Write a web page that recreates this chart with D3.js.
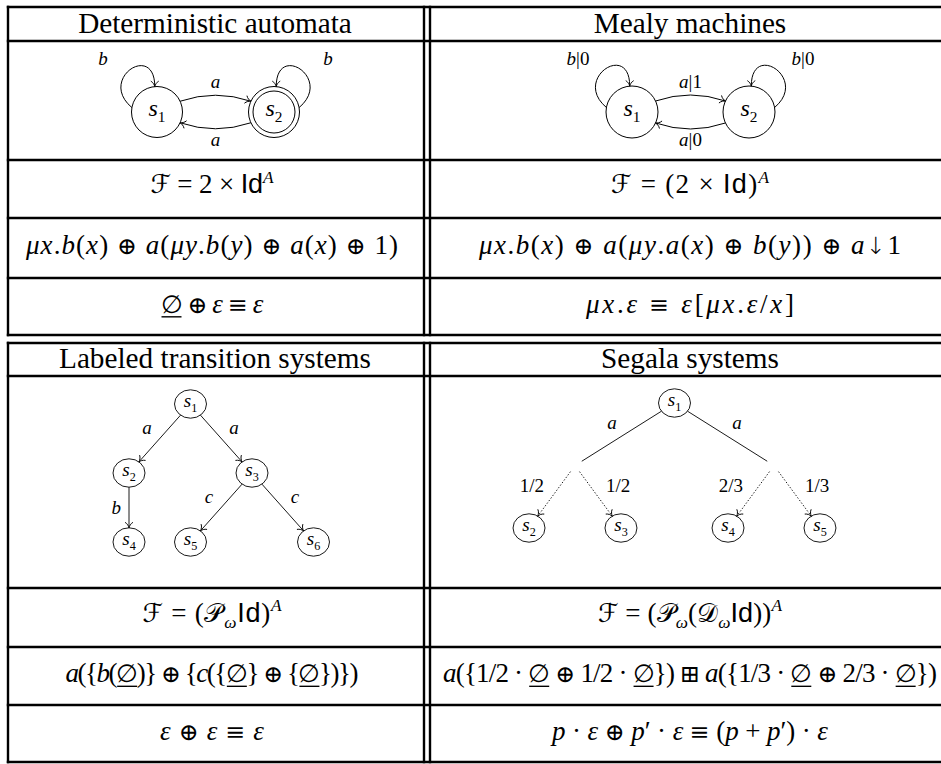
<!DOCTYPE html>
<html><head><meta charset="utf-8">
<script src="https://cdn.jsdelivr.net/npm/d3@7"></script>
<style>body{margin:0;background:#fff}svg{display:block}</style>
</head><body>
<svg id="chart" width="941" height="764"></svg>
<script>
// ---------------- DATA ----------------
const panelTitles = ["Deterministic automata", "Mealy machines", "Labeled transition systems", "Segala systems"];
const functorFormulas = ["ℱ = 2 × Id^A", "ℱ = (2 × Id)^A", "ℱ = (𝒫_ωId)^A", "ℱ = (𝒫_ω(𝒟_ωId))^A"];
const termFormulas = [
  "μx.b(x) ⊕ a(μy.b(y) ⊕ a(x) ⊕ 1)",
  "μx.b(x) ⊕ a(μy.a(x) ⊕ b(y)) ⊕ a↓1",
  "a({b(∅)} ⊕ {c({∅} ⊕ {∅})})",
  "a({1/2 · ∅ ⊕ 1/2 · ∅}) ⊞ a({1/3 · ∅ ⊕ 2/3 · ∅})"
];
const axiomFormulas = ["∅ ⊕ ε ≡ ε", "μx.ε ≡ ε[μx.ε/x]", "ε ⊕ ε ≡ ε", "p · ε ⊕ p′ · ε ≡ (p + p′) · ε"];

// two-state automata: labels = [s1→s2, s2→s1, loop on s1, loop on s2]
const automatonStates = ["s_1", "s_2"];
const dfaAccepting = [false, true];
const dfaLabels = ["a", "a", "b", "b"];
const mealyAccepting = [false, false];
const mealyLabels = ["a|1", "a|0", "b|0", "b|0"];

// trees (parent index, edge label)
const ltsStates = ["s_1", "s_2", "s_3", "s_4", "s_5", "s_6"];
const ltsParent = [-1, 0, 0, 1, 2, 2];
const ltsActions = ["", "a", "a", "b", "c", "c"];
const segalaStates = ["s_1", "", "", "s_2", "s_3", "s_4", "s_5"];
const segalaParent = [-1, 0, 0, 1, 1, 2, 2];
const segalaLabels = ["", "a", "a", "1/2", "1/2", "2/3", "1/3"];

// ---------------- LAYOUT ----------------
const SERIF = "'Liberation Serif','DejaVu Serif',serif";
const SANS = "'Liberation Sans','DejaVu Sans',sans-serif";
const CAL = "'DejaVu Sans','DejaVu Serif','Noto Sans',serif";
const SYM = "'DejaVu Sans','DejaVu Serif',sans-serif";
const gridX = [8, 424, 430];
const rightEdge = 941;
const blocks = [[7, 41, 160, 218, 278, 335], [343, 376, 588, 647, 705, 762]];
const titleCenter = [215, 690];
const mathCenter = [212, 690];
const MATH_FS = 27;
const functorWidths = [123, 158, 139, 184];
const termWidths = [372, 422, 293, 494];
const axiomWidths = [103, 208, 104, 276];

const svg = d3.select("#chart");
const defs = svg.append("defs");
defs.append("marker").attr("id", "tip").attr("markerUnits", "userSpaceOnUse")
  .attr("viewBox", "-8 -8 16 16").attr("markerWidth", 16).attr("markerHeight", 16)
  .attr("refX", 0).attr("refY", 0).attr("orient", "auto")
  .append("path").attr("d", "M-5.5,-4 C-4.2,-1.6 -1.6,-0.4 0,0 C-1.6,0.4 -4.2,1.6 -5.5,4")
  .attr("fill", "none").attr("stroke", "#000").attr("stroke-width", 0.9);

function tokenize(str) {
  const ch = Array.from(str), runs = [];
  let i = 0;
  while (i < ch.length) {
    const c = ch[i];
    if (c === "^" || c === "_") {
      const n = ch[i + 1];
      runs.push({ t: n, cls: c === "^" ? "sup" : "sub", it: /[A-Za-zμεω]/.test(n) });
      i += 2; continue;
    }
    if (c === "I" && ch[i + 1] === "d") { runs.push({ t: "Id", cls: "sans" }); i += 2; continue; }
    let cls;
    if ("ℱ𝒫𝒟".includes(c)) cls = "cal";
    else if (c === "∅") cls = "empty";
    else if ("⊕⊞≡↓".includes(c)) cls = "sym";
    else if (/[A-Za-zμεω]/.test(c)) cls = "it";
    else cls = "rm";
    const last = runs[runs.length - 1];
    if (last && last.cls === cls && (cls === "it" || cls === "rm")) last.t += c;
    else runs.push({ t: c, cls });
    i++;
  }
  return runs;
}

function mathText(parent, str, x, y, fs, anchor, width) {
  const g = parent.append("g");
  const t = g.append("text").attr("x", x).attr("y", y)
    .attr("text-anchor", anchor || "middle")
    .attr("font-family", SERIF).style("font-size", fs + "px")
    .style("white-space", "pre").attr("fill", "#000");
  if (width) t.attr("textLength", width).attr("lengthAdjust", "spacing");
  let shift = 0;
  const empties = [];
  tokenize(str).forEach(r => {
    const ts = t.append("tspan").text(r.t);
    let target = 0;
    if (r.cls === "sup") target = -0.38 * fs;
    if (r.cls === "sub") target = 0.25 * fs;
    if (target !== shift) { ts.attr("dy", target - shift); shift = target; }
    if (r.cls === "it") ts.style("font-style", "italic");
    if (r.cls === "sans") ts.attr("font-family", SANS);
    if (r.cls === "cal") ts.attr("font-family", CAL).style("font-size", "96%");
    if (r.cls === "sym") ts.attr("font-family", SYM).style("font-weight", 200).style("font-size", "88%");
    if (r.cls === "empty") { ts.attr("font-family", SYM).style("font-weight", 200).style("font-size", "94%"); empties.push(ts.node()); }
    if (r.cls === "sup" || r.cls === "sub") {
      ts.style("font-size", "64%");
      if (r.it) ts.style("font-style", "italic");
    }
  });
  empties.forEach(node => {
    const p = node.getStartPositionOfChar(0), e = node.getEndPositionOfChar(0);
    g.append("line").attr("x1", p.x + 1).attr("x2", e.x - 1)
      .attr("y1", y + 0.16 * fs).attr("y2", y + 0.16 * fs)
      .attr("stroke", "#000").attr("stroke-width", 1.4);
  });
  return g;
}

function fitSize(str, targetW) {
  const probe = svg.append("text").attr("font-family", SERIF).style("font-size", "20px").text(str);
  const w = probe.node().getBBox().width;
  probe.remove();
  return 20 * targetW / w;
}

// ---------------- TABLE GRID ----------------
const grid = svg.append("g").attr("stroke", "#000").attr("stroke-width", 2.4).attr("stroke-linecap", "square");
blocks.forEach(rows => {
  rows.forEach(y => grid.append("line").attr("x1", gridX[0]).attr("x2", rightEdge + 2).attr("y1", y).attr("y2", y));
  gridX.forEach(x => grid.append("line").attr("x1", x).attr("x2", x).attr("y1", rows[0]).attr("y2", rows[rows.length - 1]));
});

// ---------------- TEXT CELLS ----------------
const titleFs = fitSize(panelTitles[0], 274);

panelTitles.forEach((title, i) => {
  const rows = blocks[Math.floor(i / 2)];
  const tx = titleCenter[i % 2], mx = mathCenter[i % 2];
  svg.append("text").attr("x", tx).attr("y", rows[1] - 8).attr("text-anchor", "middle")
    .attr("font-family", SERIF).style("font-size", titleFs + "px").text(title);
  mathText(svg, functorFormulas[i], mx, (rows[2] + rows[3]) / 2 + 4, MATH_FS, "middle", functorWidths[i]);
  mathText(svg, termFormulas[i], mx, (rows[3] + rows[4]) / 2 + 6, MATH_FS, "middle", termWidths[i]);
  mathText(svg, axiomFormulas[i], mx, (rows[4] + rows[5]) / 2 + 6, MATH_FS, "middle", axiomWidths[i]);
});

// ---------------- AUTOMATA ----------------
function drawAutomaton(xs, cy, r, accepting, labels) {
  const g = svg.append("g");
  const P = automatonStates.map((s, i) => ({ x: xs(i), y: cy, name: s, acc: accepting[i] }));
  P.forEach(p => {
    g.append("circle").attr("cx", p.x).attr("cy", p.y).attr("r", r).attr("fill", "none").attr("stroke", "#000").attr("stroke-width", 1);
    if (p.acc) g.append("circle").attr("cx", p.x).attr("cy", p.y).attr("r", r - 4.5).attr("fill", "none").attr("stroke", "#000").attr("stroke-width", 1);
    mathText(g, p.name, p.x, p.y + 3.5, 24);
  });
  [[0, 1, labels[0]], [1, 0, labels[1]]].forEach(([a, b, lab]) => {
    const A = P[a], B = P[b];
    const dx = B.x - A.x, dy = B.y - A.y, L = Math.hypot(dx, dy);
    const ux = dx / L, uy = dy / L, nx = uy, ny = -ux;
    const be = 25 * Math.PI / 180, cb = Math.cos(be), sb = Math.sin(be);
    const S = { x: A.x + r * (cb * ux + sb * nx), y: A.y + r * (cb * uy + sb * ny) };
    const E = { x: B.x + r * (-cb * ux + sb * nx), y: B.y + r * (-cb * uy + sb * ny) };
    const h = 12;
    const C = { x: (S.x + E.x) / 2 + h * nx, y: (S.y + E.y) / 2 + h * ny };
    const path = d3.path(); path.moveTo(S.x, S.y); path.quadraticCurveTo(C.x, C.y, E.x, E.y);
    g.append("path").attr("d", path.toString()).attr("fill", "none").attr("stroke", "#000").attr("stroke-width", 1).attr("marker-end", "url(#tip)");
    const pk = { x: (S.x + 2 * C.x + E.x) / 4, y: (S.y + 2 * C.y + E.y) / 4 };
    mathText(g, lab, pk.x, pk.y + 12 * ny + 5, 19);
  });
  P.forEach((p, i) => {
    const side = i === 0 ? -1 : 1;
    const rad = d => d * Math.PI / 180;
    const a0 = side < 0 ? 170 : 10, a1 = side < 0 ? 95 : 85, out = side < 0 ? 140 : 40, d = 45;
    const P0 = { x: p.x + r * Math.cos(rad(a0)), y: p.y - r * Math.sin(rad(a0)) };
    const P3 = { x: p.x + r * Math.cos(rad(a1)), y: p.y - r * Math.sin(rad(a1)) };
    const C1 = { x: P0.x + d * Math.cos(rad(out)), y: P0.y - d * Math.sin(rad(out)) };
    const C2 = { x: P3.x, y: P3.y - d };
    const path = d3.path(); path.moveTo(P0.x, P0.y); path.bezierCurveTo(C1.x, C1.y, C2.x, C2.y, P3.x, P3.y);
    g.append("path").attr("d", path.toString()).attr("fill", "none").attr("stroke", "#000").attr("stroke-width", 1).attr("marker-end", "url(#tip)");
    mathText(g, labels[2 + i], p.x + side * 54, p.y - 47, 19);
  });
}
drawAutomaton(d3.scaleLinear().domain([0, 1]).range([157, 274]), 112, 25.5, dfaAccepting, dfaLabels);
drawAutomaton(d3.scaleLinear().domain([0, 1]).range([632, 749]), 112, 26, mealyAccepting, mealyLabels);

// ---------------- TREES ----------------
function drawTree(states, parents, labels, siblingUnits, xs, ys) {
  const g = svg.append("g");
  const rows = states.map((s, i) => ({ id: String(i), parentId: parents[i] < 0 ? null : String(parents[i]), name: s, label: labels[i] }));
  const root = d3.stratify()(rows);
  root.u = 0;
  root.eachBefore(n => {
    if (!n.children) return;
    const k = n.children.length;
    n.children.forEach((c, j) => { c.u = n.u + (j - (k - 1) / 2) * siblingUnits[n.depth]; });
  });
  root.each(n => { n.x = xs(n.u); n.y = ys(n.depth); n.hidden = n.data.name === ""; });
  const rx = 16, ry = 14.2;
  const trim = (n, dx, dy) => {
    const L = Math.hypot(dx, dy);
    if (n.hidden) return 8 / L;
    return 1 / Math.sqrt((dx / rx) ** 2 + (dy / ry) ** 2);
  };
  root.links().forEach(({ source: s, target: t }) => {
    const dx = t.x - s.x, dy = t.y - s.y;
    const ts = trim(s, dx, dy), tt = trim(t, -dx, -dy);
    const x1 = s.x + dx * ts, y1 = s.y + dy * ts, x2 = t.x - dx * tt, y2 = t.y - dy * tt;
    const dotted = s.hidden;
    const ln = g.append("line").attr("x1", x1).attr("y1", y1).attr("x2", x2).attr("y2", y2)
      .attr("stroke", "#000").attr("stroke-width", 0.9);
    if (dotted) ln.attr("stroke-dasharray", "0.6 2.6").attr("stroke-linecap", "round");
    if (!t.hidden) ln.attr("marker-end", "url(#tip)");
    const mx = (s.x + t.x) / 2, my = (s.y + t.y) / 2;
    if (dx <= 0) mathText(g, t.data.label, mx - 8, my + (dx === 0 ? 6 : -5), 19, "end");
    else mathText(g, t.data.label, mx + 8, my - 5, 19, "start");
  });
  root.each(n => {
    if (n.hidden) return;
    g.append("ellipse").attr("cx", n.x).attr("cy", n.y).attr("rx", rx).attr("ry", ry)
      .attr("fill", "none").attr("stroke", "#000").attr("stroke-width", 0.9);
    mathText(g, n.data.name, n.x, n.y + 3, 19);
  });
}
drawTree(ltsStates, ltsParent, ltsActions, [1, 1, 1],
  d3.scaleLinear().domain([-0.5, 1]).range([129, 313.5]),
  d3.scaleLinear().domain([0, 2]).range([404, 542]));
drawTree(segalaStates, segalaParent, segalaLabels, [1, 0.462],
  d3.scaleLinear().domain([-0.5, 0.5]).range([575, 774]),
  d3.scaleLinear().domain([0, 2]).range([403, 528]));
</script>
</body></html>
